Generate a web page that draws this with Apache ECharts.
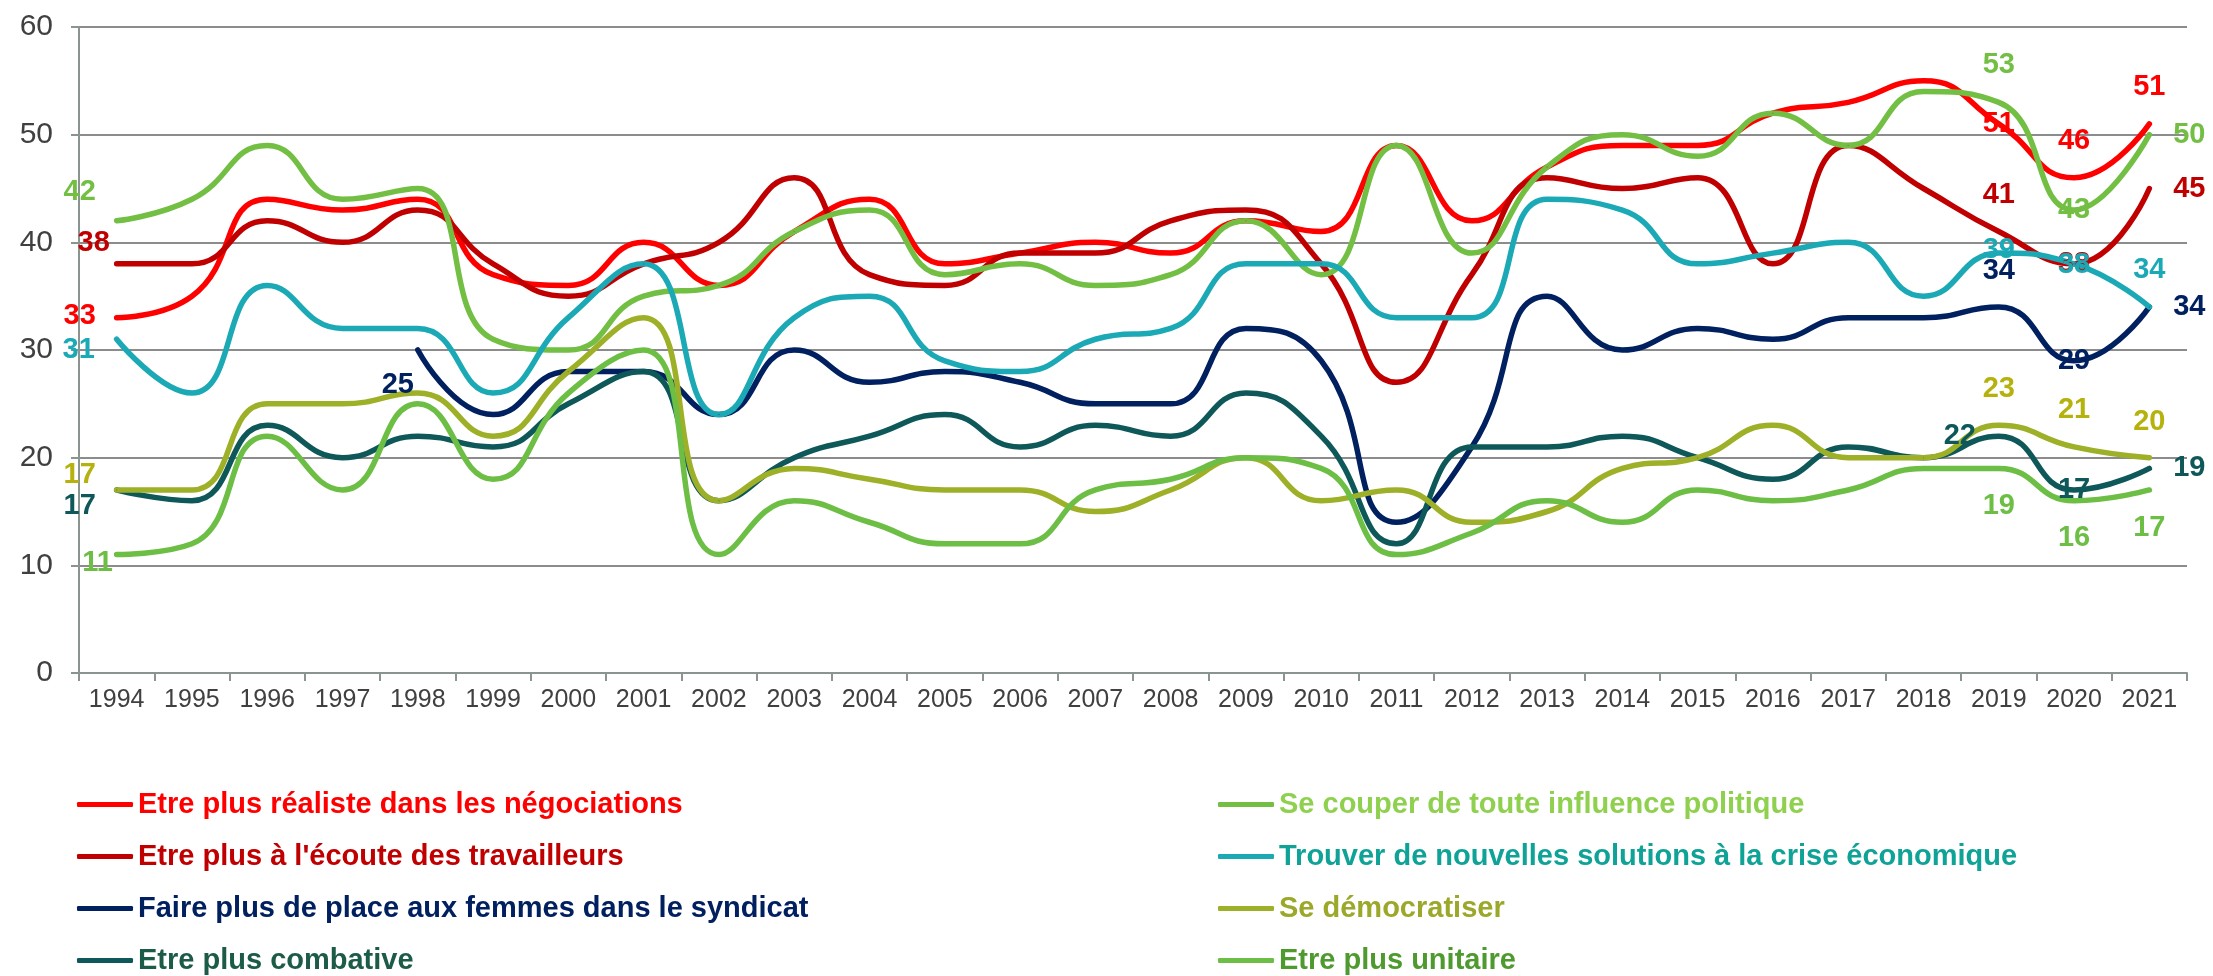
<!DOCTYPE html>
<html lang="fr">
<head>
<meta charset="utf-8">
<title>Ce que les syndicats devraient faire, 1994-2021</title>
<script src="https://cdn.jsdelivr.net/npm/echarts@6/dist/echarts.min.js"></script>
<style>
  html, body { margin: 0; padding: 0; background: #ffffff; }
  #chart { width: 2213px; height: 976px; }
</style>
</head>
<body>
<div id="chart"></div>
<script>
const FONT = '"Liberation Sans", Arial, sans-serif';

// données
const years = ['1994', '1995', '1996', '1997', '1998', '1999', '2000', '2001', '2002', '2003',
  '2004', '2005', '2006', '2007', '2008', '2009', '2010', '2011', '2012', '2013',
  '2014', '2015', '2016', '2017', '2018', '2019', '2020', '2021'];

const realiste = [33, 35, 44, 43, 44, 37, 36, 40, 36, 41, 44, 38, 39, 40, 39, 42, 41, 49, 42, 47, 49, 49, 52, 53, 55, 51, 46, 51];
const ecoute = [38, 38, 42, 40, 43, 38, 35, 38, 40, 46, 37, 36, 39, 39, 42, 43, 38, 27, 37, 46, 45, 46, 38, 49, 45, 41, 38, 45];
const femmes = [null, null, null, null, 30, 24, 28, 28, 24, 30, 27, 28, 27, 25, 25, 32, 29, 14, 21, 35, 30, 32, 31, 33, 33, 34, 29, 34];
const combative = [17, 16, 23, 20, 22, 21, 25, 28, 16, 20, 22, 24, 21, 23, 22, 26, 22, 12, 21, 21, 22, 20, 18, 21, 20, 22, 17, 19];
const politique = [42, 44, 49, 44, 45, 31, 30, 35, 36, 41, 43, 37, 38, 36, 37, 42, 37, 49, 39, 47, 50, 48, 52, 49, 54, 53, 43, 50];
const crise = [31, 26, 36, 32, 32, 26, 33, 38, 24, 33, 35, 29, 28, 31, 32, 38, 38, 33, 33, 44, 43, 38, 39, 40, 35, 39, 38, 34];
const democratiser = [17, 17, 25, 25, 26, 22, 28, 33, 16, 19, 18, 17, 17, 15, 17, 20, 16, 17, 14, 15, 19, 20, 23, 20, 20, 23, 21, 20];
const unitaire = [11, 12, 22, 17, 25, 18, 26, 30, 11, 16, 14, 12, 12, 17, 18, 20, 19, 11, 13, 16, 14, 17, 16, 17, 19, 19, 16, 17];

// étiquettes affichées : index -> décalage [x, y] depuis le point
const series = [
  { name: 'Etre plus réaliste dans les négociations', values: realiste, color: '#ff0000', text: '#ff0000',
    labels: { 0: [-37, -2], 25: [0, 0], 26: [0, -37], 27: [0, -37] } },
  { name: "Etre plus à l'écoute des travailleurs", values: ecoute, color: '#c00000', text: '#c00000',
    labels: { 0: [-23, -21], 25: [0, -37], 26: [0, 0], 27: [40, 0] } },
  { name: 'Faire plus de place aux femmes dans le syndicat', values: femmes, color: '#002060', text: '#002060',
    labels: { 4: [-20, 35, '25'], 25: [0, -36], 26: [0, 0], 27: [40, 0] } },
  { name: 'Etre plus combative', values: combative, color: '#0e5859', text: '#1d5b49', label: '#0e5859',
    labels: { 0: [-37, 16], 25: [-39, 0], 26: [0, 0], 27: [40, 0] } },
  { name: 'Se couper de toute influence politique', values: politique, color: '#72bf44', text: '#8fd14f', label: '#72bf44',
    labels: { 0: [-37, -29], 25: [0, -37], 26: [0, 0], 27: [40, 0] } },
  { name: 'Trouver de nouvelles solutions à la crise économique', values: crise, color: '#1ba9b6', text: '#0fa398', label: '#1ba9b6',
    labels: { 0: [-38, 11], 25: [0, -3], 26: [0, 1], 27: [0, -37] } },
  { name: 'Se démocratiser', values: democratiser, color: '#9eb027', text: '#9ba82a', label: '#b5b20e',
    labels: { 0: [-37, -15], 25: [0, -36], 26: [0, -37], 27: [0, -36] } },
  { name: 'Etre plus unitaire', values: unitaire, color: '#6cbe45', text: '#4f9a2f', label: '#6cbe45',
    labels: { 0: [-19, 8], 25: [0, 38], 26: [0, 37], 27: [0, 38] } }
];

const leftNames = [0, 1, 2, 3];
const rightNames = [4, 5, 6, 7];

function buildData(s) {
  return s.values.map((v, i) => {
    const l = s.labels[i];
    if (!l || v == null) return v;
    const label = { show: true, offset: [l[0], l[1]] };
    if (l[2]) label.formatter = l[2];
    return { value: v, label };
  });
}

function legendItems(idx) {
  return idx.map(i => ({ name: series[i].name, textStyle: { color: series[i].text } }));
}

const legendBase = {
  orient: 'vertical',
  top: 790,
  height: 240,
  width: 900,
  padding: 0,
  itemWidth: 56,
  itemHeight: 5,
  itemGap: 23,
  icon: 'roundRect',
  textStyle: { fontFamily: FONT, fontSize: 29, fontWeight: 'bold' }
};

const chart = echarts.init(document.getElementById('chart'));
chart.setOption({
  animation: false,
  backgroundColor: '#ffffff',
  grid: { left: 79, right: 26, top: 27, bottom: 303, containLabel: false },
  legend: [
    Object.assign({}, legendBase, { left: 77, data: legendItems(leftNames) }),
    Object.assign({}, legendBase, { left: 1218, data: legendItems(rightNames) })
  ],
  xAxis: {
    type: 'category',
    data: years,
    boundaryGap: true,
    axisLine: { lineStyle: { color: '#8a9591', width: 2 } },
    axisTick: { show: true, length: 8, lineStyle: { color: '#8a9591', width: 2 } },
    axisLabel: { interval: 0, fontFamily: FONT, fontSize: 25, color: '#404040', margin: 15 }
  },
  yAxis: {
    type: 'value',
    min: 0,
    max: 60,
    interval: 10,
    axisLine: { show: true, lineStyle: { color: '#8a9591', width: 2 } },
    axisTick: { show: true, length: 8, lineStyle: { color: '#8a9591', width: 2 } },
    axisLabel: { fontFamily: FONT, fontSize: 30, color: '#404040', margin: 26 },
    splitLine: { lineStyle: { color: '#8c8c8c', width: 2 } }
  },
  series: series.map(s => ({
    name: s.name,
    type: 'line',
    smooth: 0.5,
    symbol: 'circle',
    symbolSize: 1,
    showSymbol: true,
    showAllSymbol: true,
    color: s.color,
    lineStyle: { width: 5.5, color: s.color, cap: 'round' },
    itemStyle: { color: s.color },
    label: {
      show: false,
      position: 'inside',
      fontFamily: FONT,
      fontSize: 29,
      fontWeight: 'bold',
      color: s.label || s.color
    },
    emphasis: { disabled: true },
    data: buildData(s)
  }))
});
</script>
</body>
</html>
